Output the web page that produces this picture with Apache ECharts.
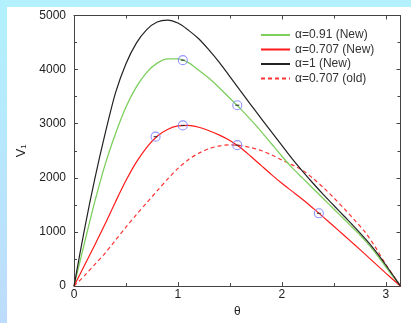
<!DOCTYPE html>
<html>
<head>
<meta charset="utf-8">
<script src="https://cdn.jsdelivr.net/npm/echarts@6/dist/echarts.min.js"></script>
<style>
html,body{margin:0;padding:0;width:411px;height:323px;overflow:hidden;background:linear-gradient(to bottom,#b2f1fd,#bedcfd);}
#panel{position:absolute;left:7px;top:7px;width:404px;height:316px;background:#fff;}
#chart{position:absolute;left:0;top:0;width:411px;height:323px;}
</style>
</head>
<body>
<div id="panel"></div>
<div id="chart"></div>
<script>
// Data (theta in radians, V1 values)
const seriesNames = ['α=0.91 (New)', 'α=0.707 (New)', 'α=1 (New)', 'α=0.707 (old)'];
const xTickLabels = ['0', '1', '2', '3'];
const yTickLabels = ['0', '1000', '2000', '3000', '4000', '5000'];

const theta = [0, 0.1, 0.2, 0.3, 0.4, 0.5, 0.6, 0.7, 0.8, 0.9, 1.0, 1.1, 1.2, 1.3, 1.4, 1.5, 1.6, 1.7, 1.8, 1.9, 2.0, 2.1, 2.2, 2.3, 2.4, 2.5, 2.6, 2.7, 2.8, 2.9, 3.0, 3.1, 3.1416];

const valueA91 = [0, 790, 1560, 2250, 2820, 3310, 3680, 3950, 4120, 4200, 4200, 4130, 3990, 3840, 3660, 3470, 3280, 3075, 2860, 2630, 2400, 2185, 1995, 1805, 1615, 1425, 1235, 1045, 845, 615, 355, 100, 0];
const valueA707 = [0, 380, 760, 1150, 1560, 1950, 2290, 2565, 2770, 2895, 2960, 2970, 2935, 2870, 2790, 2690, 2560, 2400, 2230, 2060, 1900, 1750, 1600, 1440, 1275, 1105, 935, 765, 590, 415, 240, 70, 0];
const valueA1 = [0, 1040, 1980, 2820, 3575, 4110, 4490, 4740, 4880, 4915, 4860, 4730, 4570, 4360, 4130, 3870, 3610, 3355, 3100, 2850, 2600, 2350, 2120, 1900, 1690, 1490, 1290, 1090, 880, 650, 390, 115, 0];
const valueOld = [0, 190, 400, 610, 850, 1088, 1320, 1540, 1760, 1975, 2175, 2335, 2455, 2540, 2590, 2610, 2595, 2560, 2505, 2425, 2330, 2240, 2140, 1990, 1820, 1630, 1430, 1220, 1000, 720, 400, 120, 0];

// Sample points (blue circles)
const markThetaRed = [0.785, 1.047, 1.571, 2.356];
const markValueRed = [2761, 2969, 2604, 1345];
const markThetaGreen = [1.047, 1.571];
const markValueGreen = [4175, 3342];

const zip = (xs, ys) => xs.map((x, i) => [x, ys[i]]);
const markPts = zip(markThetaRed, markValueRed).concat(zip(markThetaGreen, markValueGreen));

const FONT = 'Liberation Sans';
const axisCol = '#444';
const labelStyle = {color: '#222', fontFamily: FONT, fontSize: 12};

const chart = echarts.init(document.getElementById('chart'), null, {renderer: 'canvas'});
const mkAxisCommon = () => ({
  axisLine: {show: true, onZero: false, lineStyle: {color: axisCol, width: 1}},
  axisTick: {show: true, inside: true, length: 4, lineStyle: {color: axisCol}},
  minorTick: {show: true, splitNumber: 2, length: 3, lineStyle: {color: axisCol}},
  splitLine: {show: false}
});
const option = {
  animation: false,
  backgroundColor: 'transparent',
  grid: {left: 74, right: 10.5, top: 15.5, bottom: 35.5},
  legend: {
    data: seriesNames,
    orient: 'vertical',
    left: 260, top: 28, padding: 0,
    itemWidth: 29, itemHeight: 14, itemGap: 0.5,
    itemStyle: {opacity: 0},
    textStyle: {color: '#333', fontFamily: FONT, fontSize: 12, lineHeight: 14}
  },
  xAxis: [Object.assign({
    type: 'value', min: 0, max: Math.PI, interval: 1,
    name: 'θ', nameLocation: 'middle', nameGap: 19,
    nameTextStyle: {color: '#222', fontFamily: FONT, fontSize: 12},
    axisLabel: Object.assign({margin: 3, formatter: v => { const i = xTickLabels.indexOf(String(v)); return i >= 0 ? xTickLabels[i] : ''; }}, labelStyle)
  }, mkAxisCommon()), Object.assign({
    type: 'value', min: 0, max: Math.PI, interval: 1, position: 'top',
    axisLabel: {show: false}
  }, mkAxisCommon())],
  yAxis: [Object.assign({
    type: 'value', min: 0, max: 5000, interval: 1000,
    name: 'V₁', nameLocation: 'middle', nameGap: 43, nameRotate: 90,
    nameTextStyle: {color: '#222', fontFamily: FONT, fontSize: 13},
    axisLabel: Object.assign({margin: 8, formatter: v => { const i = yTickLabels.indexOf(String(v)); return i >= 0 ? yTickLabels[i] : ''; }}, labelStyle)
  }, mkAxisCommon()), Object.assign({
    type: 'value', min: 0, max: 5000, interval: 1000, position: 'right',
    axisLabel: {show: false}
  }, mkAxisCommon())],
  series: [
    {name: seriesNames[3], type: 'line', data: zip(theta, valueOld), smooth: 0.3, symbol: 'none',
     lineStyle: {color: '#ff3333', width: 1.2, type: [4, 3]}, itemStyle: {color: '#ff3333'}},
    {name: seriesNames[0], type: 'line', data: zip(theta, valueA91), smooth: 0.3, symbol: 'none',
     lineStyle: {color: '#7dcf5e', width: 1.3}, itemStyle: {color: '#7dcf5e'}},
    {name: seriesNames[1], type: 'line', data: zip(theta, valueA707), smooth: 0.3, symbol: 'none',
     lineStyle: {color: '#ff1a1a', width: 1.2}, itemStyle: {color: '#ff1a1a'}},
    {name: seriesNames[2], type: 'line', data: zip(theta, valueA1), smooth: 0.3, symbol: 'none',
     lineStyle: {color: '#222', width: 1.2}, itemStyle: {color: '#222'}},
    {name: 'marks', type: 'scatter', data: markPts, symbol: 'circle', symbolSize: 9,
     itemStyle: {color: 'rgba(255,255,255,0)', borderColor: '#7b7bff', borderWidth: 1.1}, z: 5},
    {name: 'bars', type: 'scatter', data: markPts, symbol: 'rect', symbolSize: [4, 1.2],
     itemStyle: {color: '#223'}, z: 6}
  ]
};
chart.setOption(option);
</script>
</body>
</html>
